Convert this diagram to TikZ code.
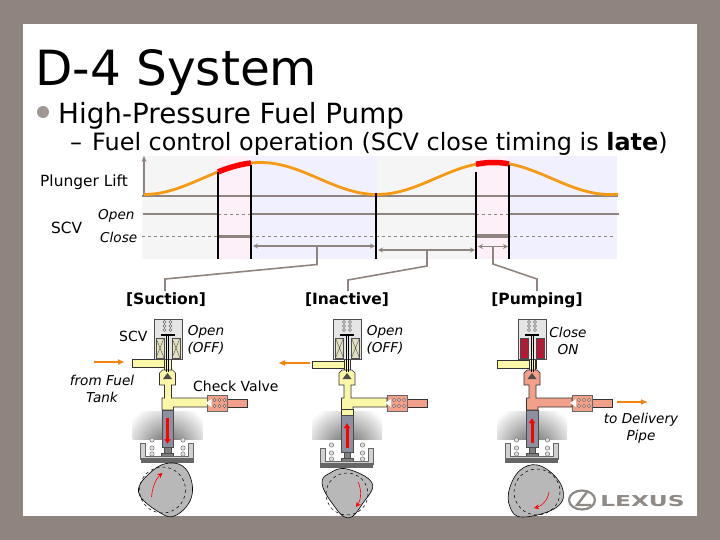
\documentclass[tikz,border=0pt]{standalone}
\usepackage{fontspec}
\setmainfont{DejaVu Sans}
\usetikzlibrary{arrows.meta}

\definecolor{frame}{HTML}{8F847F}
\definecolor{liftorange}{HTML}{F59A12}
\definecolor{fuelyellow}{HTML}{FBF7A8}
\definecolor{fuelsalmon}{HTML}{F3A08A}
\definecolor{coiloff}{HTML}{E2E0BE}
\definecolor{coilon}{HTML}{C8102E}
\definecolor{plungergray}{HTML}{8C90A0}
\definecolor{camgray}{HTML}{B8B8B8}
\definecolor{logogray}{HTML}{8F8A86}

\tikzset{
  leader/.style={draw=frame, line width=1.6pt},
  span/.style={draw=frame, line width=1.1pt, {Stealth[length=5pt,width=5pt,open]}-{Stealth[length=5pt,width=5pt,open]}},
  level/.style={draw=frame, line width=2.2pt},
  dashlevel/.style={draw=frame, line width=0.5pt, dashed},
  marker/.style={draw=black, line width=2.8pt},
  flow/.style={draw=liftorange!85!red, line width=1.4pt, -{Latex[length=7pt,width=6pt]}},
  note/.style={font=\fontsize{13.6}{17}\selectfont\itshape, align=center, inner sep=0pt},
  plain/.style={font=\fontsize{14}{16}\selectfont, inner sep=0pt},
  phase/.style={font=\fontsize{15.5}{17}\selectfont\bfseries, inner sep=0pt},
  fuel/.style={draw=black!80, line width=0.7pt},
  coil/.style={draw=black!70, line width=0.4pt},
  redmove/.style={draw=red, line width=3pt, -{Latex[length=5pt,width=7pt]}},
  camturn/.style={draw=red, line width=0.6pt, -{Stealth[length=5pt,width=5pt]}},
  liftline/.style={liftorange, line width=2.8pt},
  liftred/.style={red, line width=5.5pt}
}

% solenoid block, #1 = coil colour
\newcommand{\pumpscv}[1]{
  \draw[fill=black!10, draw=black!70, line width=0.6pt] (-13.5,319) rectangle (14.5,359);
  \foreach \cx in {-11.5,4.5} {
    \draw[coil, fill=#1] (\cx,338) rectangle ++(8,20);
    \draw[coil] (\cx,338) -- ++(8,20) (\cx,358) -- ++(8,-20);
  }
  \foreach \cx in {-3,3}
    \foreach \cy in {322,326,330}
      \draw[black!60, fill=white, line width=0.4pt] (\cx,\cy) circle (1.5);
  \draw[black, line width=1.2pt] (-7,335) -- (7,335);
  \draw[black, line width=0.7pt] (-1,335) -- (-1,372) (1,335) -- (1,372);
}
% chamber and outlet, #1 = fuel colour
\newcommand{\pumpfuel}[1]{
  \draw[fuel, fill=fuelyellow] (-3,359) rectangle (3.5,371);
  \draw[fuel, fill=#1] (-5,370) -- (5,370) -- (8,373) -- (8,385) -- (4,385) -- (4,398) -- (40,398)
    -- (40,407) -- (6,407) -- (6,410) -- (-5.5,410) -- (-5.5,398) -- (-3,398) -- (-3,385) -- (-8,385) -- (-8,373) -- cycle;
  \fill[black!70] (-4.5,379) -- (0,373) -- (4.5,379) -- cycle;
  \draw[fuel, fill=fuelsalmon] (60,399) rectangle (80,407);
  \draw[draw=black!60, fill=fuelsalmon] (40,395) rectangle (60,411);
  \fill[white] (38,403) -- (44,399) -- (44,407) -- cycle;
  \foreach \cx in {47,52,57}
    \foreach \cy in {400,406}
      \draw[black!70, fill=fuelsalmon!50, line width=0.4pt] (\cx,\cy) circle (1.6);
}
% gauzy backdrop of the bore
\newcommand{\pumpshade}{
  \begin{scope}
    \clip (-35,411) rectangle (35,439);
    \shade[inner color=black!62, outer color=white] (0,448) circle (46);
  \end{scope}
}
% plunger and tappet, #1 = arrow path
\newcommand{\pumpplunger}[1]{
  \draw[black!70, fill=plungergray, line width=0.6pt] (-5.5,410) rectangle (6,447);
  \draw[black!70, fill=black!50, line width=0.5pt] (-3,447) rectangle (3.5,453);
  \draw[black!70, fill=black!50, line width=0.5pt] (-6,453) rectangle (6,458);
  \draw[black!60, fill=black!18, line width=0.6pt] (-27,443) -- (-27,459) -- (26,459) -- (26,443) -- (21,443) -- (21,456) -- (-22,456) -- (-22,443) -- cycle;
  \fill[black!60] (-27,458) rectangle (26,463);
  \foreach \cx in {-15.5,15.5}
    \foreach \cy in {440,448,454}
      \draw[black!55, fill=black!12, line width=0.5pt] (\cx,\cy) circle (2.2);
  \draw[redmove] #1;
}

\begin{document}
\begin{tikzpicture}[x=1pt, y=-1pt]
  \useasboundingbox (0,0) rectangle (720,540);
  \fill[frame] (0,0) rectangle (720,540);
  \fill[white] (23,24) rectangle (697,516);

  % --- heading ---
  \node[anchor=base west, inner sep=0pt, font=\fontsize{48.5}{50}\selectfont] (title) at (35,86) {D-4 System};
  \node[circle, fill=frame!85, minimum size=12pt, inner sep=0pt] (bullet) at (43,112) {};
  \node[anchor=base west, inner sep=0pt, font=\fontsize{27.8}{30}\selectfont] (pumphead) at (58,124) {High-Pressure Fuel Pump};
  \node[anchor=base west, inner sep=0pt, font=\fontsize{23.9}{25}\selectfont] (dashmark) at (70,151) {–};
  \node[anchor=base west, inner sep=0pt, font=\fontsize{23.9}{25}\selectfont] (operation) at (92,151)
    {Fuel control operation (SCV close timing is \textbf{late})};

  % --- timing bands ---
  \fill[black!4] (142,156) rectangle (218,259);
  \fill[magenta!6] (218,156) rectangle (251,259);
  \fill[blue!6] (251,156) rectangle (377,259);
  \fill[black!4] (377,156) rectangle (476,259);
  \fill[magenta!6] (476,156) rectangle (509,259);
  \fill[blue!6] (509,156) rectangle (617,259);

  % --- SCV levels ---
  \draw[level, line width=1.6pt] (143,214) -- (218,214);
  \draw[level] (201,214) -- (218,214);
  \draw[dashlevel] (218,214) -- (251,214);
  \draw[level] (251,214) -- (476,214);
  \draw[dashlevel] (476,214) -- (509,214);
  \draw[level] (509,214) -- (619,214);
  \draw[dashlevel] (142,236.5) -- (615,236.5);
  \draw[level, line width=2.6pt] (218,236.5) -- (251,236.5);
  \draw[level, line width=3.8pt] (476,236) -- (509,236);

  % --- plunger lift ---
  \draw[level, line width=1.3pt, -{Stealth[length=6pt,width=5pt]}] (144,196) -- (144,156);
  \draw[level, line width=1.7pt] (142,196) -- (618,196);
  \draw[liftline] plot[domain=144:218, samples=30] (\x, {178.5+16*cos((\x-144)*1.545)});
  \draw[liftline] plot[domain=251:476, samples=60] (\x, {178.5+16*cos((\x-144)*1.545)});
  \draw[liftline] plot[domain=509:618, samples=30] (\x, {178.5+16*cos((\x-144)*1.545)});
  \draw[liftred] plot[domain=218:251, samples=12] (\x, {178.5+16*cos((\x-144)*1.545)});
  \draw[liftred] plot[domain=476:509, samples=12] (\x, {178.5+16*cos((\x-144)*1.545)});
  \draw[marker] (218,172) -- (218,259);
  \draw[marker] (251,165) -- (251,259);
  \draw[marker] (376,193) -- (376,259);
  \draw[marker] (476,172) -- (476,259);
  \draw[marker] (509,165) -- (509,259);

  \node[plain, font=\fontsize{15.4}{17}\selectfont, anchor=west] (liftname) at (40,182) {Plunger Lift};
  \node[plain, font=\fontsize{15.4}{17}\selectfont, anchor=west] (scvname) at (51,228) {SCV};
  \node[note, anchor=west] (openname) at (98,216) {Open};
  \node[note, anchor=west] (closename) at (100,237) {Close};

  % --- phases ---
  \coordinate (suctionspan) at (317,246);
  \coordinate (inactivespan) at (427,250);
  \coordinate (pumpingspan) at (493,246.5);
  \draw[span] (253,246) -- (375,246);
  \draw[span] (378,250) -- (475,250);
  \draw[span] (478,246.5) -- (508,246.5);
  \node[phase] (suction) at (166,300) {[Suction]};
  \node[phase] (inactive) at (347,300) {[Inactive]};
  \node[phase] (pumping) at (537,300) {[Pumping]};
  \draw[leader] (suctionspan) -- (317,264.5) -- (165,279) -- (165,291);
  \draw[leader] (inactivespan) -- (427,266) -- (348,280) -- (348,291);
  \draw[leader] (pumpingspan) -- (493,264) -- (537,279) -- (537,291);

  % --- suction ---
  \begin{scope}[xshift=167.5pt]
    \draw[fuel, fill=fuelyellow] (-35,359) rectangle (3,367);
    \pumpfuel{fuelyellow}
    \pumpscv{coiloff}
    \pumpshade
    \pumpplunger{(0,418) -- (0,444)}
    \draw[draw=black, fill=camgray, line width=0.6pt] plot[smooth cycle, tension=0.7] coordinates {(6,463) (21,473) (24,497) (9,515) (-7,513) (-29,492) (-14,470)};
    \draw[dashed, line width=0.5pt] (-5,490) circle (23);
    \draw[camturn] (-16,497) .. controls (-15,486) and (-11,478) .. (-5,473);
  \end{scope}
  \node[plain, anchor=west] (scvlabel) at (119,336) {SCV};
  \node[note] (suctionstate) at (206,340) {Open\\(OFF)};
  \node[note] (fromtank) at (102,389) {from Fuel\\Tank};
  \node[plain, anchor=west] (checkvalve) at (193,386) {Check Valve};
  \coordinate (intail) at (94,362);
  \coordinate (inhead) at (125,362);
  \draw[flow] (intail) -- (inhead);

  % --- inactive ---
  \begin{scope}[xshift=347pt]
    \draw[fuel, fill=fuelyellow] (-35,361) rectangle (3,368);
    \pumpfuel{fuelyellow}
    \pumpscv{coiloff}
    \pumpshade
    \draw[fuel, fill=fuelyellow] (-5.5,409) rectangle (6,416);
    \begin{scope}[yshift=-5pt]
      \pumpplunger{(0,443) -- (0,418)}
    \end{scope}
    \draw[draw=black, fill=camgray, line width=0.6pt] plot[smooth cycle, tension=0.7] coordinates {(0,469) (25,483) (16,503) (1,518) (-15,503) (-25,483) (-17,473)};
    \draw[dashed, line width=0.5pt] (0,494) circle (21);
    \draw[camturn] (11,482) .. controls (15,490) and (14,500) .. (9,507);
  \end{scope}
  \node[note] (inactivestate) at (385,340) {Open\\(OFF)};
  \coordinate (backtail) at (310,363);
  \coordinate (backhead) at (278,363);
  \draw[flow] (backtail) -- (backhead);

  % --- pumping ---
  \begin{scope}[xshift=532pt]
    \draw[fuel, fill=fuelyellow] (-35,360) rectangle (4,368);
    \pumpfuel{fuelsalmon}
    \pumpscv{coilon}
    \pumpshade
    \pumpplunger{(0,443) -- (0,418)}
    \draw[draw=black, fill=camgray, line width=0.6pt] plot[smooth cycle, tension=0.7] coordinates {(-9,468) (11,467) (30,487) (25,507) (-9,517) (-22,507) (-22,487)};
    \draw[dashed, line width=0.5pt] (5,492) circle (23);
    \draw[camturn] (17,492) .. controls (16,500) and (10,506) .. (2,508);
  \end{scope}
  \node[note] (pumpingstate) at (568,341) {Close\\ON};
  \node[note] (todelivery) at (641,428) {to Delivery\\Pipe};
  \coordinate (outtail) at (617,402);
  \coordinate (outhead) at (648,402);
  \draw[flow] (outtail) -- (outhead);

  % --- badge ---
  \draw[logogray, line width=2.2pt] (582,500) ellipse (13 and 9.5);
  \draw[logogray, line width=2.4pt] (587,492) -- (577,505) -- (591,505);
  \node[inner sep=0pt, text=logogray, font=\fontsize{15}{15}\selectfont\bfseries, xscale=1.55, anchor=west] (brand) at (600,501) {LEXUS};
\end{tikzpicture}
\end{document}
